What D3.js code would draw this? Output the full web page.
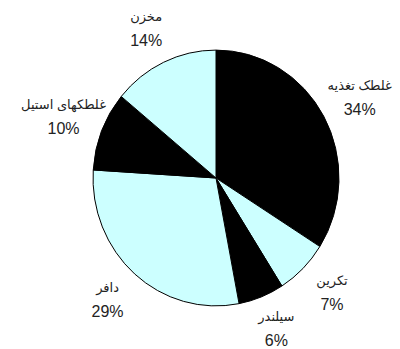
<!DOCTYPE html>
<html>
<head>
<meta charset="utf-8">
<script src="https://cdn.jsdelivr.net/npm/d3@7"></script>
<style>
  html, body { margin: 0; padding: 0; background: #fff; }
  text { font-family: "Liberation Sans", Arial, "DejaVu Sans", sans-serif; fill: #222; }
</style>
</head>
<body>
<div id="chart"></div>
<script>
// Slices in order, clockwise from 12 o'clock
const labels = ["غلطک تغذیه", "تکرین", "سیلندر", "دافر", "غلطکهای استیل", "مخزن"];
const values = [34, 7, 6, 29, 10, 14];
const colors = ["#000000", "#ccffff", "#000000", "#ccffff", "#000000", "#ccffff"];

const width = 400;
const height = 349;
const cx = 216;
const cy = 178;
const radius = 123;
const squash = 1.04; // the scanned pie is a touch taller than wide
const labelRadius = 164;

const data = labels.map((name, i) => ({ name, value: values[i], color: colors[i] }));

const svg = d3.select("#chart")
  .append("svg")
  .attr("width", width)
  .attr("height", height);

const g = svg.append("g").attr("transform", `translate(${cx},${cy})`);

const pie = d3.pie().value((d) => d.value).sort(null);
const arc = d3.arc().innerRadius(0).outerRadius(radius);
const labelArc = d3.arc().innerRadius(labelRadius).outerRadius(labelRadius);

const arcs = pie(data);

// Slices
g.append("g")
  .attr("transform", `scale(1,${squash})`)
  .selectAll("path")
  .data(arcs)
  .enter()
  .append("path")
  .attr("d", arc)
  .attr("fill", (d) => d.data.color)
  .attr("stroke", "#000")
  .attr("stroke-width", 1)
  .attr("vector-effect", "non-scaling-stroke");

// Labels: name above, percent below
const lab = g.selectAll("g.label")
  .data(arcs)
  .enter()
  .append("g")
  .attr("class", "label")
  .attr("transform", (d) => `translate(${labelArc.centroid(d)})`);

lab.append("text")
  .attr("text-anchor", "middle")
  .attr("y", -9)
  .style("font-size", "13px")
  .text((d) => d.data.name);

lab.append("text")
  .attr("text-anchor", "middle")
  .attr("y", 16)
  .style("font-size", "16px")
  .text((d) => d.data.value + "%");
</script>
</body>
</html>
